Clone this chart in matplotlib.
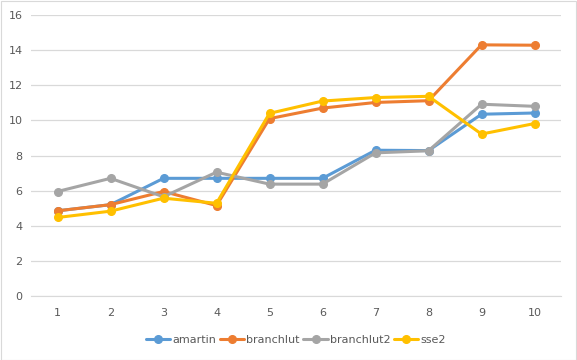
import matplotlib.pyplot as plt
from matplotlib.patches import Rectangle

# Data
x = [1, 2, 3, 4, 5, 6, 7, 8, 9, 10]
amartin = [4.85, 5.2, 6.7, 6.7, 6.7, 6.7, 8.3, 8.28, 10.35, 10.42]
branchlut = [4.85, 5.2, 5.95, 5.15, 10.1, 10.7, 11.02, 11.12, 14.3, 14.28]
branchlut2 = [5.95, 6.7, 5.65, 7.05, 6.37, 6.37, 8.15, 8.27, 10.92, 10.8]
sse2 = [4.47, 4.83, 5.57, 5.28, 10.4, 11.1, 11.3, 11.37, 9.22, 9.82]

series = [
    ("amartin", amartin, "#5B9BD5"),
    ("branchlut", branchlut, "#ED7D31"),
    ("branchlut2", branchlut2, "#A5A5A5"),
    ("sse2", sse2, "#FFC000"),
]

fig = plt.figure(figsize=(5.77, 3.6), dpi=100)
ax = fig.add_axes([31 / 577, 64 / 360, 530 / 577, 281 / 360])

for name, vals, color in series:
    ax.plot(x, vals, color=color, lw=2.2, marker="o", markersize=5.5, label=name,
            solid_capstyle="round")

ax.set_xlim(0.5, 10.5)
ax.set_ylim(0, 16)
ax.set_yticks(range(0, 17, 2))
ax.set_xticks(x)
ax.grid(axis="y", color="#D9D9D9", lw=0.9)
ax.set_axisbelow(True)
for s in ["left", "right", "top"]:
    ax.spines[s].set_visible(False)
ax.spines["bottom"].set_color("#D9D9D9")
ax.tick_params(length=0, labelsize=8, labelcolor="#595959", pad=9)
ax.tick_params(axis="y", pad=6)

leg = ax.legend(loc="center", bbox_to_anchor=(0.5, -44 / 281), ncol=4, frameon=False,
                fontsize=8, handlelength=2.2, columnspacing=0.3, handletextpad=0.2,
                borderaxespad=0)
for t in leg.get_texts():
    t.set_color("#595959")

# chart border
fig.patches.append(Rectangle((0.5 / 577, 0.5 / 360), 575.5 / 577, 358.5 / 360,
                             transform=fig.transFigure, fill=False,
                             edgecolor="#D9D9D9", lw=0.8))

fig.savefig("out.png", dpi=100)
